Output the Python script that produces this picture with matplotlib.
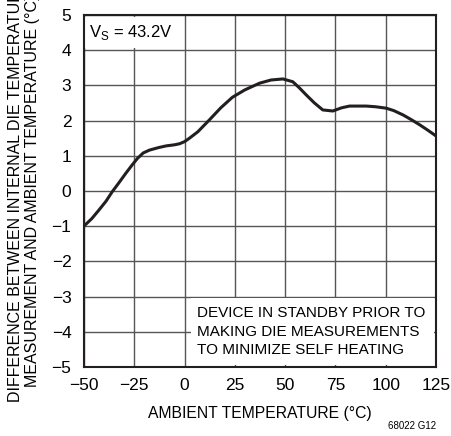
import matplotlib.pyplot as plt
from matplotlib.patches import Rectangle

plt.rcParams['font.family'] = ['Liberation Sans Narrow', 'Liberation Sans', 'DejaVu Sans']

# die temperature difference
temp = [-50, -46, -42.5, -39, -35.9, -32.5, -29.2, -26, -23.3, -20.5, -17.4, -13, -9.1, -5,
        -2.5, 0, 2.5, 6.6, 12.4, 18, 23.8, 30, 37.3, 43, 48.9, 53.8, 57, 60.4, 64.5, 68.7,
        73.7, 78, 82, 90.3, 95, 100.2, 104, 108.5, 112.5, 116.8, 121, 125]
diff = [-1.0, -0.78, -0.54, -0.29, -0.02, 0.24, 0.50, 0.74, 0.93, 1.08, 1.16, 1.23, 1.28, 1.31,
        1.34, 1.40, 1.50, 1.68, 2.02, 2.36, 2.66, 2.87, 3.06, 3.15, 3.18, 3.10, 2.93, 2.73,
        2.50, 2.30, 2.27, 2.36, 2.41, 2.41, 2.39, 2.35, 2.28, 2.16, 2.03, 1.88, 1.72, 1.56]

xticks = [-50, -25, 0, 25, 50, 75, 100, 125]
yticks = [-5, -4, -3, -2, -1, 0, 1, 2, 3, 4, 5]

fig = plt.figure(figsize=(4.51, 4.36), dpi=100)
ax = fig.add_axes([0.186, 0.158, 0.781, 0.808])

ax.plot(temp, diff, color="#231f20", lw=2.2, zorder=4, solid_joinstyle="round")
ax.set_xlim(-50, 125)
ax.set_ylim(-5, 5)
ax.set_xticks(xticks)
ax.set_yticks(yticks)
ax.grid(color="#555555", lw=1.0)
ax.tick_params(length=0, labelsize=12.5)
ax.tick_params(axis="y", pad=9)
ax.tick_params(axis="x", pad=8)
for s in ax.spines.values():
    s.set_linewidth(1.5)
    s.set_color("#231f20")
    s.set_zorder(5)

# white patches behind the annotations
ax.add_patch(Rectangle((-49.5, 4.05), 49, 0.9, facecolor="white", edgecolor="none", zorder=2))
ax.add_patch(Rectangle((3, -4.95), 121, 1.9, facecolor="white", edgecolor="none", zorder=2))

ax.text(-47.5, 4.5, "V$_\\mathregular{S}$ = 43.2V", fontsize=12, va="center", ha="left", zorder=3)
ax.text(6, -4.0, "DEVICE IN STANDBY PRIOR TO\nMAKING DIE MEASUREMENTS\nTO MINIMIZE SELF HEATING",
        fontsize=11, va="center", ha="left", linespacing=1.4, zorder=3)

ax.set_xlabel("AMBIENT TEMPERATURE (°C)", fontsize=11.3, labelpad=9)
ax.set_ylabel("DIFFERENCE BETWEEN INTERNAL DIE TEMPERATURE\nMEASUREMENT AND AMBIENT TEMPERATURE (°C)",
              fontsize=11.5, labelpad=8, linespacing=1.2)
fig.text(0.968, 0.012, "68022 G12", fontsize=7, ha="right", va="bottom")

fig.savefig("out.png", dpi=100)
